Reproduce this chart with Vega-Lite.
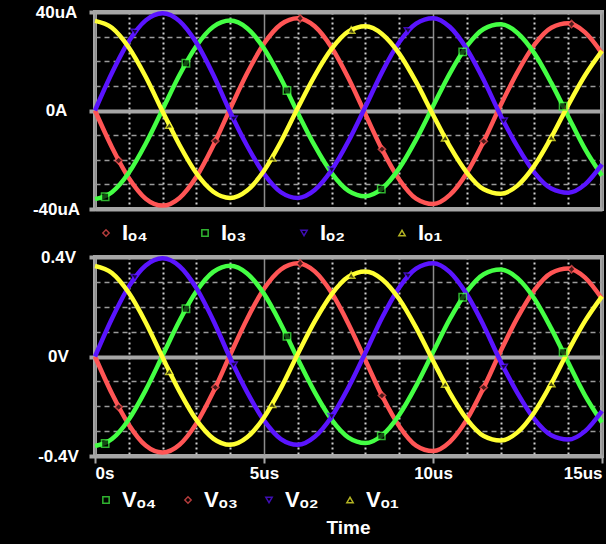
{
  "$schema": "https://vega.github.io/schema/vega-lite/v6.json",
  "background": "black",
  "padding": {"left": 30, "top": 1, "right": 4, "bottom": 6},
  "spacing": 0,
  "resolve": {"scale": {"color": "independent", "shape": "independent", "stroke": "independent"}, "legend": {"color": "independent", "shape": "independent", "stroke": "independent"}},
  "config": {
    "font": "Liberation Sans",
    "view": {"stroke": "#a6a6a6", "strokeWidth": 4, "fill": "black"},
    "axis": {"labelColor": "white", "labelFont": "Liberation Sans", "labelFontWeight": "bold", "labelFontSize": 17, "domain": false, "title": null, "labelBound": false},
    "legend": {"orient": "bottom", "direction": "horizontal", "labelColor": "white", "labelFont": "Liberation Sans", "labelFontWeight": "bold", "labelFontSize": 22, "symbolSize": 40, "symbolStrokeWidth": 1.5, "labelOffset": 5, "padding": 0}
  },
  "datasets": {
    "w": [
      {"t":0,"i":"IO4","v":"VO3","I":0,"V":0},{"t":0.5,"i":"IO4","v":"VO3","I":-14.9,"V":-0.149},{"t":1,"i":"IO4","v":"VO3","I":-27.4,"V":-0.274},{"t":1.5,"i":"IO4","v":"VO3","I":-35.8,"V":-0.358},{"t":2,"i":"IO4","v":"VO3","I":-38.6,"V":-0.386},{"t":2.5,"i":"IO4","v":"VO3","I":-35.5,"V":-0.355},{"t":3,"i":"IO4","v":"VO3","I":-26.9,"V":-0.269},{"t":3.5,"i":"IO4","v":"VO3","I":-14.2,"V":-0.142},{"t":4,"i":"IO4","v":"VO3","I":0.7,"V":0.007},{"t":4.5,"i":"IO4","v":"VO3","I":15.1,"V":0.151},{"t":5,"i":"IO4","v":"VO3","I":27.2,"V":0.272},{"t":5.5,"i":"IO4","v":"VO3","I":35.0,"V":0.35},{"t":6,"i":"IO4","v":"VO3","I":37.5,"V":0.375},{"t":6.5,"i":"IO4","v":"VO3","I":34.2,"V":0.342},{"t":7,"i":"IO4","v":"VO3","I":25.6,"V":0.256},{"t":7.5,"i":"IO4","v":"VO3","I":13.1,"V":0.131},{"t":8,"i":"IO4","v":"VO3","I":-1.5,"V":-0.015},{"t":8.5,"i":"IO4","v":"VO3","I":-16.0,"V":-0.16},{"t":9,"i":"IO4","v":"VO3","I":-28.0,"V":-0.28},{"t":9.5,"i":"IO4","v":"VO3","I":-35.8,"V":-0.358},{"t":10,"i":"IO4","v":"VO3","I":-38.0,"V":-0.38},{"t":10.5,"i":"IO4","v":"VO3","I":-34.3,"V":-0.343},{"t":11,"i":"IO4","v":"VO3","I":-25.4,"V":-0.254},{"t":11.5,"i":"IO4","v":"VO3","I":-12.5,"V":-0.125},{"t":12,"i":"IO4","v":"VO3","I":2.1,"V":0.021},{"t":12.5,"i":"IO4","v":"VO3","I":15.6,"V":0.156},{"t":13,"i":"IO4","v":"VO3","I":26.7,"V":0.267},{"t":13.5,"i":"IO4","v":"VO3","I":33.6,"V":0.336},{"t":14,"i":"IO4","v":"VO3","I":35.4,"V":0.354},{"t":14.5,"i":"IO4","v":"VO3","I":31.7,"V":0.317},{"t":15,"i":"IO4","v":"VO3","I":23.2,"V":0.232},
      {"t":0,"i":"IO3","v":"VO4","I":-36.0,"V":-0.36},{"t":0.5,"i":"IO3","v":"VO4","I":-33.2,"V":-0.332},{"t":1,"i":"IO3","v":"VO4","I":-25.3,"V":-0.253},{"t":1.5,"i":"IO3","v":"VO4","I":-13.5,"V":-0.135},{"t":2,"i":"IO3","v":"VO4","I":0.4,"V":0.004},{"t":2.5,"i":"IO3","v":"VO4","I":14.4,"V":0.144},{"t":3,"i":"IO3","v":"VO4","I":26.2,"V":0.262},{"t":3.5,"i":"IO3","v":"VO4","I":34.0,"V":0.34},{"t":4,"i":"IO3","v":"VO4","I":36.5,"V":0.365},{"t":4.5,"i":"IO3","v":"VO4","I":33.4,"V":0.334},{"t":5,"i":"IO3","v":"VO4","I":25.2,"V":0.252},{"t":5.5,"i":"IO3","v":"VO4","I":13.0,"V":0.13},{"t":6,"i":"IO3","v":"VO4","I":-1.0,"V":-0.01},{"t":6.5,"i":"IO3","v":"VO4","I":-14.3,"V":-0.143},{"t":7,"i":"IO3","v":"VO4","I":-25.4,"V":-0.254},{"t":7.5,"i":"IO3","v":"VO4","I":-32.6,"V":-0.326},{"t":8,"i":"IO3","v":"VO4","I":-34.8,"V":-0.348},{"t":8.5,"i":"IO3","v":"VO4","I":-31.6,"V":-0.316},{"t":9,"i":"IO3","v":"VO4","I":-23.5,"V":-0.235},{"t":9.5,"i":"IO3","v":"VO4","I":-11.8,"V":-0.118},{"t":10,"i":"IO3","v":"VO4","I":1.7,"V":0.017},{"t":10.5,"i":"IO3","v":"VO4","I":15.1,"V":0.151},{"t":11,"i":"IO3","v":"VO4","I":26.1,"V":0.261},{"t":11.5,"i":"IO3","v":"VO4","I":33.1,"V":0.331},{"t":12,"i":"IO3","v":"VO4","I":35.0,"V":0.35},{"t":12.5,"i":"IO3","v":"VO4","I":31.5,"V":0.315},{"t":13,"i":"IO3","v":"VO4","I":23.2,"V":0.232},{"t":13.5,"i":"IO3","v":"VO4","I":11.2,"V":0.112},{"t":14,"i":"IO3","v":"VO4","I":-2.4,"V":-0.024},{"t":14.5,"i":"IO3","v":"VO4","I":-15.7,"V":-0.157},{"t":15,"i":"IO3","v":"VO4","I":-26.5,"V":-0.265},
      {"t":0,"i":"IO2","v":"VO2","I":0,"V":0},{"t":0.5,"i":"IO2","v":"VO2","I":15.2,"V":0.152},{"t":1,"i":"IO2","v":"VO2","I":28.1,"V":0.281},{"t":1.5,"i":"IO2","v":"VO2","I":36.6,"V":0.366},{"t":2,"i":"IO2","v":"VO2","I":39.5,"V":0.395},{"t":2.5,"i":"IO2","v":"VO2","I":36.3,"V":0.363},{"t":3,"i":"IO2","v":"VO2","I":27.5,"V":0.275},{"t":3.5,"i":"IO2","v":"VO2","I":14.5,"V":0.145},{"t":4,"i":"IO2","v":"VO2","I":-0.7,"V":-0.007},{"t":4.5,"i":"IO2","v":"VO2","I":-14.3,"V":-0.143},{"t":5,"i":"IO2","v":"VO2","I":-25.7,"V":-0.257},{"t":5.5,"i":"IO2","v":"VO2","I":-33.2,"V":-0.332},{"t":6,"i":"IO2","v":"VO2","I":-35.5,"V":-0.355},{"t":6.5,"i":"IO2","v":"VO2","I":-32.3,"V":-0.323},{"t":7,"i":"IO2","v":"VO2","I":-24.2,"V":-0.242},{"t":7.5,"i":"IO2","v":"VO2","I":-12.4,"V":-0.124},{"t":8,"i":"IO2","v":"VO2","I":1.5,"V":0.015},{"t":8.5,"i":"IO2","v":"VO2","I":15.8,"V":0.158},{"t":9,"i":"IO2","v":"VO2","I":27.7,"V":0.277},{"t":9.5,"i":"IO2","v":"VO2","I":35.3,"V":0.353},{"t":10,"i":"IO2","v":"VO2","I":37.5,"V":0.375},{"t":10.5,"i":"IO2","v":"VO2","I":33.9,"V":0.339},{"t":11,"i":"IO2","v":"VO2","I":25.0,"V":0.25},{"t":11.5,"i":"IO2","v":"VO2","I":12.4,"V":0.124},{"t":12,"i":"IO2","v":"VO2","I":-2.0,"V":-0.02},{"t":12.5,"i":"IO2","v":"VO2","I":-14.7,"V":-0.147},{"t":13,"i":"IO2","v":"VO2","I":-25.2,"V":-0.252},{"t":13.5,"i":"IO2","v":"VO2","I":-31.7,"V":-0.317},{"t":14,"i":"IO2","v":"VO2","I":-33.4,"V":-0.334},{"t":14.5,"i":"IO2","v":"VO2","I":-30.0,"V":-0.3},{"t":15,"i":"IO2","v":"VO2","I":-21.9,"V":-0.219},
      {"t":0,"i":"IO1","v":"VO1","I":36.4,"V":0.364},{"t":0.5,"i":"IO1","v":"VO1","I":33.6,"V":0.336},{"t":1,"i":"IO1","v":"VO1","I":25.6,"V":0.256},{"t":1.5,"i":"IO1","v":"VO1","I":13.7,"V":0.137},{"t":2,"i":"IO1","v":"VO1","I":-0.4,"V":-0.004},{"t":2.5,"i":"IO1","v":"VO1","I":-14.0,"V":-0.14},{"t":3,"i":"IO1","v":"VO1","I":-25.5,"V":-0.255},{"t":3.5,"i":"IO1","v":"VO1","I":-33.0,"V":-0.33},{"t":4,"i":"IO1","v":"VO1","I":-35.5,"V":-0.355},{"t":4.5,"i":"IO1","v":"VO1","I":-32.5,"V":-0.325},{"t":5,"i":"IO1","v":"VO1","I":-24.5,"V":-0.245},{"t":5.5,"i":"IO1","v":"VO1","I":-12.7,"V":-0.127},{"t":6,"i":"IO1","v":"VO1","I":1.0,"V":0.01},{"t":6.5,"i":"IO1","v":"VO1","I":14.1,"V":0.141},{"t":7,"i":"IO1","v":"VO1","I":25.0,"V":0.25},{"t":7.5,"i":"IO1","v":"VO1","I":32.1,"V":0.321},{"t":8,"i":"IO1","v":"VO1","I":34.2,"V":0.342},{"t":8.5,"i":"IO1","v":"VO1","I":31.0,"V":0.31},{"t":9,"i":"IO1","v":"VO1","I":23.1,"V":0.231},{"t":9.5,"i":"IO1","v":"VO1","I":11.6,"V":0.116},{"t":10,"i":"IO1","v":"VO1","I":-1.7,"V":-0.017},{"t":10.5,"i":"IO1","v":"VO1","I":-14.6,"V":-0.146},{"t":11,"i":"IO1","v":"VO1","I":-25.2,"V":-0.252},{"t":11.5,"i":"IO1","v":"VO1","I":-32.0,"V":-0.32},{"t":12,"i":"IO1","v":"VO1","I":-33.8,"V":-0.338},{"t":12.5,"i":"IO1","v":"VO1","I":-30.5,"V":-0.305},{"t":13,"i":"IO1","v":"VO1","I":-22.4,"V":-0.224},{"t":13.5,"i":"IO1","v":"VO1","I":-10.9,"V":-0.109},{"t":14,"i":"IO1","v":"VO1","I":2.2,"V":0.022},{"t":14.5,"i":"IO1","v":"VO1","I":14.3,"V":0.143},{"t":15,"i":"IO1","v":"VO1","I":24.2,"V":0.242}
    ],
    "m": [
      {"t":0.7,"i":"IO4","v":"VO3","I":-20.3,"V":-0.203},{"t":3.56,"i":"IO4","v":"VO3","I":-12.4,"V":-0.124},{"t":6.07,"i":"IO4","v":"VO3","I":37.4,"V":0.374},{"t":8.49,"i":"IO4","v":"VO3","I":-15.7,"V":-0.157},{"t":11.5,"i":"IO4","v":"VO3","I":-12.5,"V":-0.125},{"t":14.1,"i":"IO4","v":"VO3","I":35.1,"V":0.351},
      {"t":0.3,"i":"IO3","v":"VO4","I":-35.0,"V":-0.35},{"t":2.69,"i":"IO3","v":"VO4","I":19.2,"V":0.192},{"t":5.68,"i":"IO3","v":"VO4","I":8.1,"V":0.081},{"t":8.47,"i":"IO3","v":"VO4","I":-31.9,"V":-0.319},{"t":10.88,"i":"IO3","v":"VO4","I":23.8,"V":0.238},{"t":13.85,"i":"IO3","v":"VO4","I":1.7,"V":0.017},
      {"t":1.18,"i":"IO2","v":"VO2","I":31.7,"V":0.317},{"t":4.1,"i":"IO2","v":"VO2","I":-3.5,"V":-0.035},{"t":7.0,"i":"IO2","v":"VO2","I":-24.2,"V":-0.242},{"t":9.26,"i":"IO2","v":"VO2","I":32.3,"V":0.323},{"t":12.09,"i":"IO2","v":"VO2","I":-4.4,"V":-0.044},
      {"t":2.2,"i":"IO1","v":"VO1","I":-5.9,"V":-0.059},{"t":5.24,"i":"IO1","v":"VO1","I":-19.2,"V":-0.192},{"t":7.58,"i":"IO1","v":"VO1","I":32.7,"V":0.327},{"t":10.36,"i":"IO1","v":"VO1","I":-11.1,"V":-0.111},{"t":13.5,"i":"IO1","v":"VO1","I":-10.9,"V":-0.109}
    ]
  },
  "vconcat": [
    {
      "width": 507,
      "height": 197,
      "resolve": {"axis": {"x": "independent", "y": "independent"}},
      "layer": [
        {
          "data": {"name": "w"},
          "mark": {"type": "line", "strokeWidth": 4.5, "interpolate": "monotone"},
          "encoding": {
            "x": {"field": "t", "type": "quantitative", "scale": {"domain": [0, 15], "nice": false},
              "axis": {"orient": "bottom", "values": [1,2,3,4,6,7,8,9,11,12,13,14], "labels": false, "ticks": false, "grid": true, "gridColor": "#d0d0d0", "gridDash": [2, 3], "gridWidth": 2}},
            "y": {"field": "I", "type": "quantitative", "scale": {"domain": [-40, 40], "nice": false},
              "axis": {"orient": "left", "values": [-30,-20,-10,10,20,30], "labels": false, "ticks": false, "grid": true, "gridColor": "#9a9a9a", "gridDash": [5, 4], "gridWidth": 1.5}},
            "stroke": {"field": "i", "type": "nominal", "scale": {"domain": ["IO4","IO3","IO2","IO1"], "range": ["#ff5555","#44ff44","#5a14ff","#ffff33"]},
              "legend": {"title": null, "offset": 7, "columnPadding": 46, "labelExpr": "replace(replace(replace(replace(replace(datum.label,'O','ₒ'),'1','₁'),'2','₂'),'3','₃'),'4','₄')"}}
          }
        },
        {
          "data": {"name": "m"},
          "mark": {"type": "point", "filled": false, "fill": "black", "size": 55, "strokeWidth": 1.5},
          "encoding": {
            "x": {"field": "t", "type": "quantitative",
              "axis": {"orient": "bottom", "values": [0,5,10,15], "labels": false, "ticks": false, "grid": true, "gridColor": "#8c8c8c", "gridWidth": 1.5}},
            "y": {"field": "I", "type": "quantitative",
              "axis": {"orient": "left", "values": [-40,0,40], "labelExpr": "datum.value == 0 ? '0A' : datum.value + 'uA'",
                "labelAlign": "center", "labelPadding": 33, "tickSize": 6, "tickWidth": 4, "tickColor": "#a6a6a6",
                "grid": true, "gridColor": "#a6a6a6", "gridWidth": 4}},
            "color": {"field": "i", "type": "nominal", "scale": {"domain": ["IO4","IO3","IO2","IO1"], "range": ["#ff5555","#44ff44","#5a14ff","#ffff33"]},
              "legend": {"title": null, "offset": 7, "columnPadding": 46, "labelExpr": "replace(replace(replace(replace(replace(datum.label,'O','ₒ'),'1','₁'),'2','₂'),'3','₃'),'4','₄')"}},
            "shape": {"field": "i", "type": "nominal", "scale": {"domain": ["IO4","IO3","IO2","IO1"], "range": ["diamond","square","triangle-down","triangle-up"]},
              "legend": {"title": null, "offset": 7, "columnPadding": 46, "labelExpr": "replace(replace(replace(replace(replace(datum.label,'O','ₒ'),'1','₁'),'2','₂'),'3','₃'),'4','₄')"}}
          }
        }
      ]
    },
    {
      "width": 507,
      "height": 199,
      "title": {"text": "Time", "orient": "bottom", "frame": "group", "color": "white", "font": "Liberation Sans", "fontSize": 19, "fontWeight": "bold", "offset": 8},
      "resolve": {"axis": {"x": "independent", "y": "independent"}},
      "layer": [
        {
          "data": {"name": "w"},
          "mark": {"type": "line", "strokeWidth": 4.5, "interpolate": "monotone"},
          "encoding": {
            "x": {"field": "t", "type": "quantitative", "scale": {"domain": [0, 15], "nice": false},
              "axis": {"orient": "bottom", "values": [1,2,3,4,6,7,8,9,11,12,13,14], "labels": false, "ticks": false, "grid": true, "gridColor": "#d0d0d0", "gridDash": [2, 3], "gridWidth": 2}},
            "y": {"field": "V", "type": "quantitative", "scale": {"domain": [-0.4, 0.4], "nice": false},
              "axis": {"orient": "left", "values": [-0.3,-0.2,-0.1,0.1,0.2,0.3], "labels": false, "ticks": false, "grid": true, "gridColor": "#9a9a9a", "gridDash": [5, 4], "gridWidth": 1.5}},
            "stroke": {"field": "v", "type": "nominal", "scale": {"domain": ["VO4","VO3","VO2","VO1"], "range": ["#44ff44","#ff5555","#5a14ff","#ffff33"]},
              "legend": {"title": null, "offset": 8, "columnPadding": 20, "labelExpr": "replace(replace(replace(replace(replace(datum.label,'O','ₒ'),'1','₁'),'2','₂'),'3','₃'),'4','₄')"}}
          }
        },
        {
          "data": {"name": "m"},
          "mark": {"type": "point", "filled": false, "fill": "black", "size": 55, "strokeWidth": 1.5},
          "encoding": {
            "x": {"field": "t", "type": "quantitative",
              "axis": {"orient": "bottom", "values": [0,5,10,15], "labelExpr": "datum.value == 0 ? '0s' : datum.value + 'us'", "labelFlush": true, "labelPadding": 2,
                "tickSize": 7, "tickWidth": 2, "tickColor": "#a6a6a6", "grid": true, "gridColor": "#8c8c8c", "gridWidth": 1.5}},
            "y": {"field": "V", "type": "quantitative",
              "axis": {"orient": "left", "values": [-0.4,0,0.4], "labelExpr": "datum.value == 0 ? '0V' : datum.value + 'V'",
                "labelAlign": "center", "labelPadding": 31, "tickSize": 6, "tickWidth": 4, "tickColor": "#a6a6a6",
                "grid": true, "gridColor": "#a6a6a6", "gridWidth": 4}},
            "color": {"field": "v", "type": "nominal", "scale": {"domain": ["VO4","VO3","VO2","VO1"], "range": ["#44ff44","#ff5555","#5a14ff","#ffff33"]},
              "legend": {"title": null, "offset": 8, "columnPadding": 20, "labelExpr": "replace(replace(replace(replace(replace(datum.label,'O','ₒ'),'1','₁'),'2','₂'),'3','₃'),'4','₄')"}},
            "shape": {"field": "v", "type": "nominal", "scale": {"domain": ["VO4","VO3","VO2","VO1"], "range": ["square","diamond","triangle-down","triangle-up"]},
              "legend": {"title": null, "offset": 8, "columnPadding": 20, "labelExpr": "replace(replace(replace(replace(replace(datum.label,'O','ₒ'),'1','₁'),'2','₂'),'3','₃'),'4','₄')"}}
          }
        }
      ]
    }
  ]
}
